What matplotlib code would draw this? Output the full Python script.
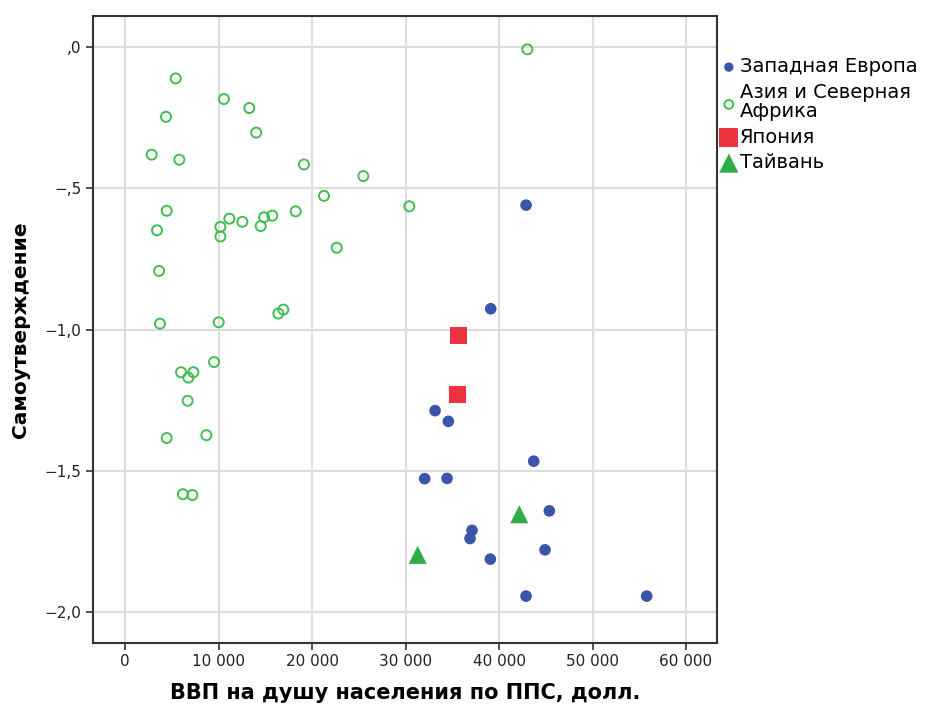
import matplotlib
matplotlib.use('Agg')
import matplotlib.pyplot as plt
from matplotlib.ticker import FuncFormatter

# ВВП на душу населения (x) и самоутверждение (y)
west_europe_x = [42890, 39110, 33160, 34580, 43710, 32050, 34440, 45380, 37110, 36900, 44920, 39070, 42890, 55790]
west_europe_y = [-0.559, -0.926, -1.287, -1.325, -1.466, -1.528, -1.527, -1.642, -1.711, -1.740, -1.780, -1.813,
                 -1.944, -1.944]

asia_x = [43030, 5420, 10580, 13290, 4385, 14030, 2850, 5810, 19140, 25490, 21280, 30410, 4460, 18250, 11160,
          12550, 14870, 15750, 14510, 10200, 10200, 3420, 22640, 3640, 16930, 16400, 3740, 10020, 9520, 5990,
          7310, 6770, 6700, 4460, 8700, 6200, 7200]
asia_y = [-0.007, -0.110, -0.183, -0.215, -0.246, -0.302, -0.380, -0.398, -0.415, -0.456, -0.526, -0.563, -0.579,
          -0.581, -0.607, -0.618, -0.602, -0.596, -0.633, -0.636, -0.670, -0.648, -0.710, -0.792, -0.929, -0.943,
          -0.979, -0.974, -1.115, -1.151, -1.151, -1.170, -1.252, -1.384, -1.374, -1.583, -1.586]

japan_x = [35690, 35610]
japan_y = [-1.021, -1.231]

taiwan_x = [42170, 31300]
taiwan_y = [-1.654, -1.798]

x_ticks = [0, 10000, 20000, 30000, 40000, 50000, 60000]
y_ticks = [0.0, -0.5, -1.0, -1.5, -2.0]

narrow = ['Liberation Sans Narrow', 'DejaVu Sans']

fig = plt.figure(figsize=(9.36, 7.06), dpi=100)
ax = fig.add_axes([0.0994, 0.0897, 0.6663, 0.8876])

ax.scatter(west_europe_x, west_europe_y, s=70, color='#3b55a9', edgecolors='none', zorder=3,
           label='Западная Европа')
ax.scatter(asia_x, asia_y, s=52, facecolors='none', edgecolors='#3fbf4f', linewidths=1.4, zorder=3,
           label='Азия и Северная\nАфрика')
ax.scatter(japan_x, japan_y, s=150, marker='s', color='#ee3340', edgecolors='none', zorder=3,
           label='Япония')
ax.scatter(taiwan_x, taiwan_y, s=170, marker='^', color='#2fae47', edgecolors='none', zorder=3,
           label='Тайвань')

ax.set_xlim(-3420, 63280)
ax.set_ylim(-2.109, 0.111)
ax.set_xticks(x_ticks)
ax.set_yticks(y_ticks)
ax.xaxis.set_major_formatter(FuncFormatter(lambda v, p: '{:,.0f}'.format(v).replace(',', ' ')))


def fmt_y(v, p):
    s = '{:.1f}'.format(v).replace('.', ',')
    s = s.replace('-0,', '-,').replace('0,', ',')
    return s.replace('-', '\u2212')


ax.yaxis.set_major_formatter(FuncFormatter(fmt_y))
ax.grid(True, color='#dddddd', linewidth=1.5, zorder=0)
ax.set_axisbelow(True)
for sp in ax.spines.values():
    sp.set_color('#333333')
    sp.set_linewidth(1.5)
ax.tick_params(direction='out', length=5, width=1.2, color='#333333', labelsize=11, labelcolor='#222222')
for lab in ax.get_xticklabels() + ax.get_yticklabels():
    lab.set_family(narrow)

ax.set_xlabel('ВВП на душу населения по ППС, долл.', fontsize=15, fontweight='bold', family=narrow, labelpad=10)
ax.set_ylabel('Самоутверждение', fontsize=14.5, fontweight='bold', family=narrow, labelpad=10)

leg = fig.legend(loc='upper left', bbox_to_anchor=(0.761, 0.93), frameon=False, fontsize=14,
                 handletextpad=0.1, labelspacing=0.33, borderaxespad=0, handlelength=0.9,
                 scatterpoints=1)
for t in leg.get_texts():
    t.set_linespacing(1.05)
for h, sz in zip(leg.legend_handles, [45, 40, 190, 190]):
    h.set_sizes([sz])

plt.savefig('out.png', dpi=100)
